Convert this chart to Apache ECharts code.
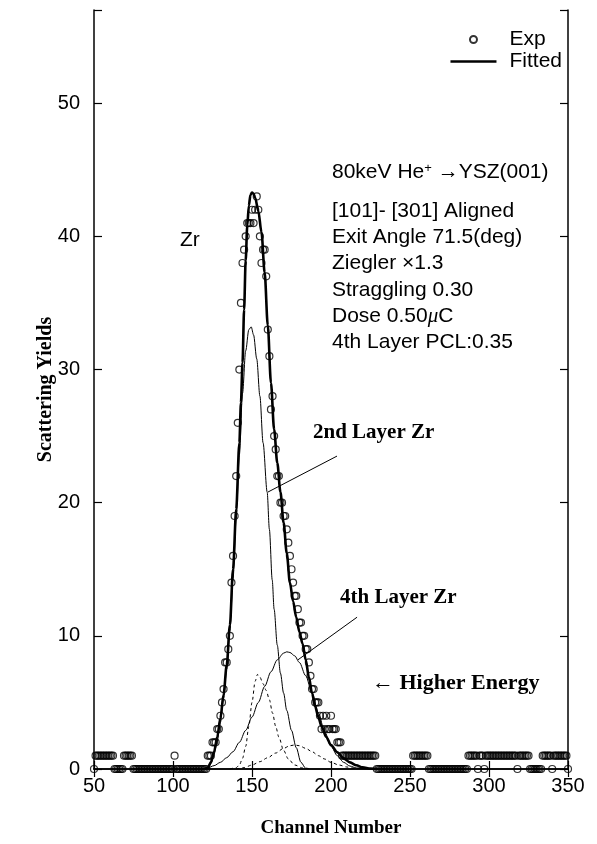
<!DOCTYPE html>
<html>
<head>
<meta charset="utf-8">
<script src="https://cdn.jsdelivr.net/npm/echarts@6.0.0/dist/echarts.min.js"></script>
<style>
html, body { margin: 0; padding: 0; background: #fff; }
#chart { width: 597px; height: 844px; }
</style>
</head>
<body>
<div id="chart"></div>
<script>
// experimental counts, one per channel starting at channel 50
let expStart = 50;
let expCounts = [
    0, 1, 1, 1, 1, 1, 1, 1, 1, 1,          // 50
    1, 1, 1, 0, 0, 0, 0, 0, 0, 1,          // 60
    1, 1, 1, 1, 1, 0, 0, 0, 0, 0,          // 70
    0, 0, 0, 0, 0, 0, 0, 0, 0, 0,          // 80
    0, 0, 0, 0, 0, 0, 0, 0, 0, 0,          // 90
    0, 1, 0, 0, 0, 0, 0, 0, 0, 0,          // 100
    0, 0, 0, 0, 0, 0, 0, 0, 0, 0,          // 110
    0, 0, 1, 1, 1, 2, 2, 2, 3, 3,          // 120
    4, 5, 6, 8, 8, 9, 10, 14, 16, 19,      // 130
    22, 26, 30, 35, 38, 39, 40, 41, 41, 41, // 140
    42, 41, 42, 43, 42, 40, 38, 39, 39, 37, // 150
    33, 31, 27, 28, 25, 24, 22, 22, 20, 20, // 160
    19, 19, 18, 17, 16, 15, 14, 13, 13, 12, // 170
    11, 11, 10, 10, 9, 9, 8, 7, 6, 6,      // 180
    5, 5, 5, 4, 3, 4, 3, 4, 3, 3,          // 190
    4, 3, 3, 3, 2, 2, 2, 1, 1, 1,          // 200
    1, 1, 1, 1, 1, 1, 1, 1, 1, 1,          // 210
    1, 1, 1, 1, 1, 1, 1, 1, 1, 0,          // 220
    0, 0, 0, 0, 0, 0, 0, 0, 0, 0,          // 230
    0, 0, 0, 0, 0, 0, 0, 0, 0, 0,          // 240
    0, 0, 1, 1, 1, 1, 1, 1, 1, 1,          // 250
    1, 1, 0, 0, 0, 0, 0, 0, 0, 0,          // 260
    0, 0, 0, 0, 0, 0, 0, 0, 0, 0,          // 270
    0, 0, 0, 0, 0, 0, 0, 1, 1, 1,          // 280
    1, 1, 1, 0, 1, 1, 1, 0, 1, 1,          // 290
    1, 1, 1, 1, 1, 1, 1, 1, 1, 1,          // 300
    1, 1, 1, 1, 1, 1, 1, 1, 0, 1,          // 310
    1, 1, 1, 1, 1, 1, 0, 0, 0, 0,          // 320
    0, 0, 0, 0, 1, 1, 1, 1, 1, 1,          // 330
    0, 1, 1, 1, 1, 1, 1, 1, 1, 1,          // 340
    0                                       // 350
];

// fitted curves, [channel, yield]
let fitTotal = [[120,0],[122,0.1],[124,0.5],[126,1.3],[128,2.4],[130,3.8],[132,5.6],[134,7.8],[136,10.8],
    [138,15],[140,19.5],[142,24.5],[143,27.5],[144,30.5],[145,34.5],[146,38.2],[147,40.8],[148,42.3],
    [149,43.1],[150,43.3],[151,43.2],[152,42.9],[154,41.9],[156,40.3],[158,37.3],[160,33.3],[162,29],
    [164,25.5],[166,23],[168,20.8],[170,18.5],[172,16.2],[174,14],[176,12.6],[178,11.4],[180,10.3],
    [182,9.4],[184,8.2],[186,6.9],[188,5.7],[190,4.7],[192,3.9],[194,3.2],[197,2.4],[200,1.8],
    [204,1.25],[208,0.8],[212,0.5],[216,0.28],[220,0.12],[225,0.03],[230,0]];
let fit2ndLayer = [[120,0],[122,0.05],[124,0.4],[126,1.1],[128,2.1],[130,3.5],[132,5.3],[134,7.5],
    [136,10.4],[138,14.3],[140,18.8],[142,23.6],[144,28.2],[146,31.4],[148,33],[149.5,33.2],[151,32.6],
    [153,30.8],[155,28],[157,24.5],[159.6,20.8],[161,18],[162.8,14.2],[164,12],[166,9.3],[168,7.2],
    [170,5.7],[172,4.4],[175,2.9],[178,1.6],[181,0.5],[184,0.05],[186,0]];
let fit4thLayer = [[118,0],[122,0.08],[126,0.25],[130,0.5],[134,0.85],[138,1.3],[142,2.0],[146,2.9],
    [150,3.9],[154,5.0],[158,6.2],[162,7.3],[166,8.2],[170,8.7],[172,8.8],[174,8.75],[177,8.5],
    [180,8.0],[184,7.0],[188,5.7],[192,4.2],[196,2.8],[200,1.7],[204,1.0],[208,0.5],[212,0.22],
    [216,0.08],[222,0]];
let fitDashA = [[136,0],[140,0.1],[142,0.3],[144,0.8],[146,1.7],[148,3.2],[150,5.0],[152,6.6],
    [153.5,7.1],[155,6.9],[157,6.4],[159,5.9],[161,5.2],[163,4.2],[165,3.2],[167,2.4],[170,1.4],
    [173,0.75],[177,0.3],[182,0.08],[188,0]];
let fitDashB = [[140,0],[145,0.1],[150,0.3],[155,0.55],[160,0.85],[165,1.2],[170,1.55],[174,1.75],
    [177,1.8],[180,1.75],[184,1.55],[188,1.3],[192,1.0],[196,0.75],[200,0.5],[205,0.3],[210,0.15],
    [215,0.05],[220,0]];

// annotation arrows, [from, to] in data coords
let arrow2nd = [[203.8, 23.5], [160.1, 20.8]];
let arrow4th = [[216.5, 11.4], [179.1, 8.2]];

let xTicks = { min: 50, max: 350, interval: 50 };
let yTicks = { min: 0, max: 57, interval: 10 };

let infoLines = [
    '[101]- [301] Aligned',
    'Exit Angle 71.5(deg)',
    'Ziegler \u00d71.3',
    'Straggling 0.30',
    'Dose 0.50{it|\u03bc}C',
    '4th Layer PCL:0.35'
];

let sans = 'Liberation Sans';
let serif = 'Liberation Serif';

function initEchart(el) {
    let myc = echarts.init(el, null, { renderer: 'canvas' });

    let expData = [];
    for (let i = 0; i < expCounts.length; i++) {
        expData.push([expStart + i, expCounts[i]]);
    }

    let frameAxis = {
        axisLine: { lineStyle: { color: '#000', width: 1.5 } },
        axisTick: { inside: true, length: 8, lineStyle: { color: '#000', width: 1.2 } },
        splitLine: { show: false }
    };

    let texts = [];
    texts.push({
        type: 'text', x: 332, y: 172,
        style: {
            text: '80keV He{sup|+} \u2192YSZ(001)',
            fontFamily: sans, fontSize: 21, fill: '#000', verticalAlign: 'middle',
            rich: { sup: { fontSize: 13, verticalAlign: 'top', fontFamily: sans } }
        }
    });
    for (let i = 0; i < infoLines.length; i++) {
        texts.push({
            type: 'text', x: 332, y: 211 + i * 26.3,
            style: {
                text: infoLines[i], fontFamily: sans, fontSize: 21, fill: '#000', verticalAlign: 'middle',
                rich: { it: { fontStyle: 'italic', fontFamily: serif, fontSize: 21 } }
            }
        });
    }
    texts.push({ type: 'text', x: 180, y: 240,
        style: { text: 'Zr', fontFamily: sans, fontSize: 21, fill: '#000', verticalAlign: 'middle' } });
    texts.push({ type: 'text', x: 313, y: 433,
        style: { text: '2nd Layer Zr', fontFamily: serif, fontWeight: 'bold', fontSize: 21, fill: '#000', verticalAlign: 'middle' } });
    texts.push({ type: 'text', x: 340, y: 598,
        style: { text: '4th Layer Zr', fontFamily: serif, fontWeight: 'bold', fontSize: 21, fill: '#000', verticalAlign: 'middle' } });
    texts.push({ type: 'text', x: 372, y: 683,
        style: { text: '\u2190 Higher Energy', fontFamily: serif, fontWeight: 'bold', fontSize: 22, fill: '#000', verticalAlign: 'middle' } });

    let options = {
        animation: false,
        backgroundColor: '#fff',
        grid: { left: 94, right: 29, top: 10, bottom: 75 },
        legend: {
            orient: 'vertical',
            right: 30,
            top: 24,
            align: 'left',
            itemWidth: 46,
            itemHeight: 7,
            itemGap: 1,
            textStyle: { fontFamily: sans, fontSize: 21, color: '#000', lineHeight: 18, padding: [0, 0, 0, 8] },
            data: [
                { name: 'Exp', icon: 'circle' },
                { name: 'Fitted', icon: 'path://M0,0 L46,0 L46,2.6 L0,2.6 Z' }
            ]
        },
        xAxis: [
            Object.assign({}, frameAxis, {
                type: 'value', position: 'bottom',
                min: xTicks.min, max: xTicks.max, interval: xTicks.interval,
                axisLabel: { color: '#000', fontFamily: sans, fontSize: 20, margin: 7 },
                name: 'Channel Number', nameLocation: 'middle', nameGap: 50,
                nameTextStyle: { fontFamily: serif, fontWeight: 'bold', fontSize: 19, color: '#000' }
            }),
            Object.assign({}, frameAxis, {
                type: 'value', position: 'top',
                min: xTicks.min, max: xTicks.max, interval: xTicks.interval,
                axisLabel: { show: false }
            })
        ],
        yAxis: [
            Object.assign({}, frameAxis, {
                type: 'value', position: 'left',
                min: yTicks.min, max: yTicks.max, interval: yTicks.interval,
                axisLabel: {
                    color: '#000', fontFamily: sans, fontSize: 20, margin: 14,
                    formatter: function (v) { return v % 10 === 0 ? v : ''; }
                },
                name: 'Scattering Yields', nameLocation: 'middle', nameGap: 38, nameRotate: 90,
                nameMoveOverlap: false,
                nameTextStyle: { fontFamily: serif, fontWeight: 'bold', fontSize: 20, color: '#000' }
            }),
            Object.assign({}, frameAxis, {
                type: 'value', position: 'right',
                min: yTicks.min, max: yTicks.max, interval: yTicks.interval,
                axisLabel: { show: false }
            })
        ],
        graphic: texts,
        series: [
            {
                name: '2nd Layer', type: 'line', data: fit2ndLayer, symbol: 'none',
                smooth: 0.3, smoothMonotone: 'x',
                lineStyle: { color: '#000', width: 1 }, z: 3
            },
            {
                name: '4th Layer', type: 'line', data: fit4thLayer, symbol: 'none',
                smooth: 0.3, smoothMonotone: 'x',
                lineStyle: { color: '#000', width: 1 }, z: 3,
                markLine: {
                    silent: true, symbol: ['none', 'arrow'], symbolSize: [0, 9],
                    label: { show: false },
                    lineStyle: { color: '#000', width: 1, type: 'solid' },
                    data: [
                        [{ coord: arrow2nd[0] }, { coord: arrow2nd[1] }],
                        [{ coord: arrow4th[0] }, { coord: arrow4th[1] }]
                    ]
                }
            },
            {
                name: 'dashA', type: 'line', data: fitDashA, symbol: 'none',
                smooth: 0.3, smoothMonotone: 'x',
                lineStyle: { color: '#000', width: 1, type: [3, 3] }, z: 3
            },
            {
                name: 'dashB', type: 'line', data: fitDashB, symbol: 'none',
                smooth: 0.3, smoothMonotone: 'x',
                lineStyle: { color: '#000', width: 1, type: [3, 3] }, z: 3
            },
            {
                name: 'Fitted', type: 'line', data: fitTotal, symbol: 'none',
                smooth: 0.3, smoothMonotone: 'x',
                itemStyle: { color: '#000' },
                lineStyle: { color: '#000', width: 2.6 }, z: 4
            },
            {
                name: 'Exp', type: 'scatter', data: expData,
                symbol: 'circle', symbolSize: 7,
                itemStyle: { color: 'rgba(255,255,255,0)', borderColor: '#000', borderWidth: 1.2 },
                z: 5
            }
        ]
    };
    myc.setOption(options);
}

initEchart(document.getElementById('chart'));
</script>
</body>
</html>
